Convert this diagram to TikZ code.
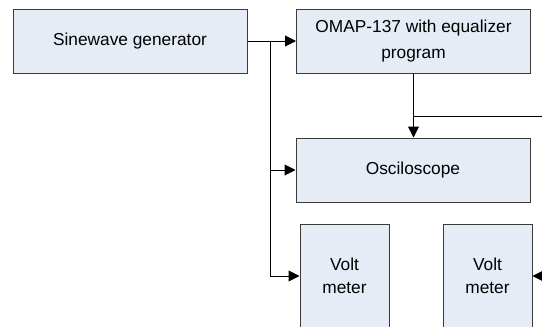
\documentclass[tikz,border=0pt]{standalone}
\usepackage{fontspec}
\setmainfont{Liberation Sans}
\usetikzlibrary{arrows.meta}
\definecolor{boxfill}{HTML}{E6ECF6}
\definecolor{boxline}{HTML}{3A3A3A}
\begin{document}
\begin{tikzpicture}[x=1pt,y=-1pt,
  blk/.style={draw=boxline, fill=boxfill, line width=1pt, inner sep=0pt, align=center,
    font=\fontsize{17.3}{26}\selectfont},
  wide/.style={blk, minimum width=234pt, minimum height=64pt},
  tall/.style={blk, minimum width=89pt, minimum height=104pt, font=\fontsize{17.3}{23.5}\selectfont},
  conn/.style={line width=1pt, -{Triangle[length=11pt,width=11pt]}},
  wire/.style={line width=1pt}]
\useasboundingbox (0,0) rectangle (542,327);
\clip (0,0) rectangle (542,327);
\node[wide] (sine) at (130,41) {Sinewave generator};
\node[wide] (omap) at (413.5,41) {OMAP-137 with equalizer\\program};
\node[wide] (osc) at (413,170) {Osciloscope};
\node[tall] (vm1) at (344.5,276) {Volt\\meter};
\node[tall] (vm2) at (487.5,276) {Volt\\meter};
\coordinate (j) at (270.5,41);
\coordinate (r1) at (560,116);
\coordinate (r2) at (560,276);
\draw[conn] (sine.east) -- (omap.west);
\draw[conn] (j) |- (osc.west);
\draw[conn] (j) |- (vm1.west);
\draw[conn] (omap.south) -- (omap.south |- osc.north);
\draw[wire] (r1 -| omap.south) -- (r1);
\draw[conn] (r2) -- (vm2.east);
\end{tikzpicture}
\end{document}
